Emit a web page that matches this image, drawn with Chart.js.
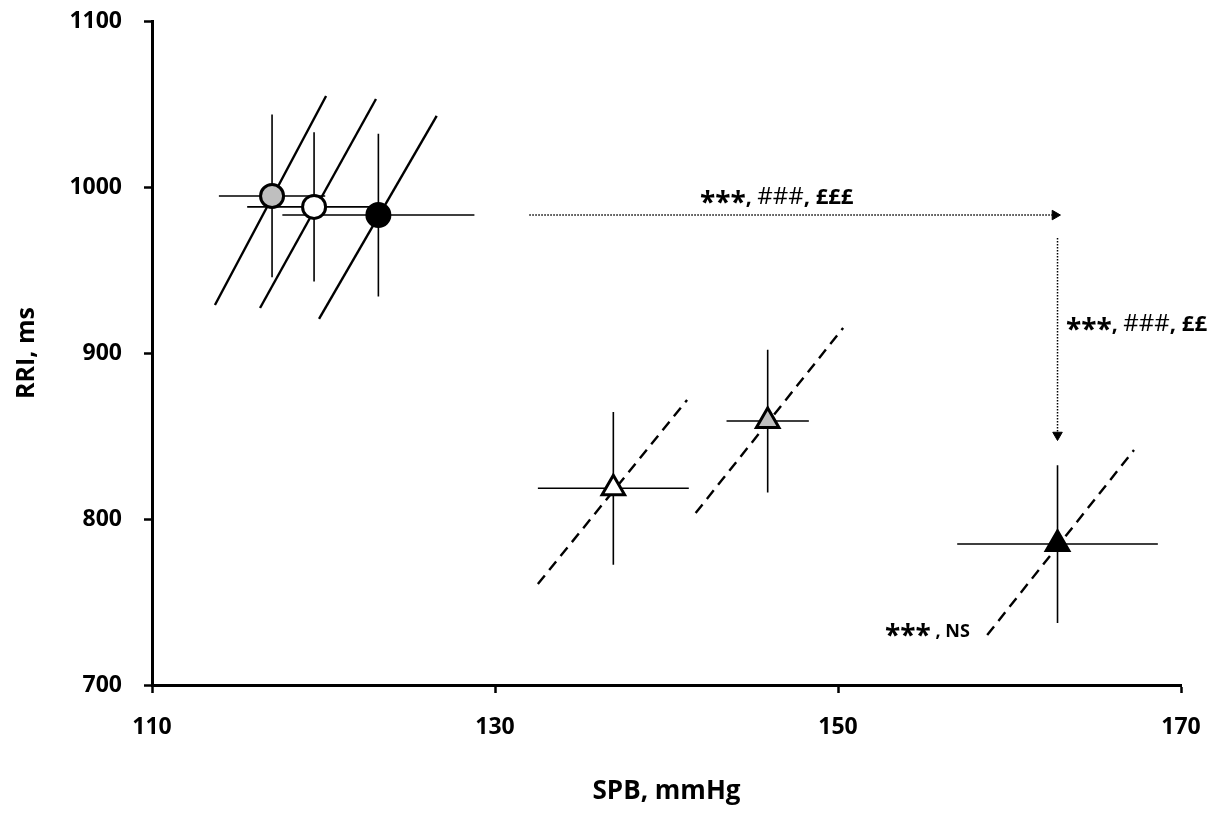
<!DOCTYPE html>
<html><head><meta charset="utf-8">
<script src="https://cdn.jsdelivr.net/npm/chart.js@4.4.0/dist/chart.umd.min.js"></script>
<style>html,body{margin:0;padding:0;background:#fff;} #wrap{width:1223px;height:817px;position:relative;}</style>
</head><body><div id="wrap"><canvas id="c" width="1223" height="817"></canvas></div>
<script>
// ---- data ----
const groups   = ['Grey circle','White circle','Black circle','White triangle','Grey triangle','Black triangle'];
const sbpMean  = [117.0, 119.45, 123.2, 136.9, 145.9, 162.8];
const sbpSD    = [3.1, 3.9, 5.6, 4.4, 2.4, 5.85];
const rriMean  = [994.6, 988.0, 983.1, 818.5, 859.0, 784.9];
const rriSD    = [49, 45, 49, 46, 43, 47.5];
// baroreflex slope line end points
const slopeX0  = [113.67, 116.3, 119.74, 132.5, 141.7, 158.7];
const slopeY0  = [928.9, 927.1, 920.5, 760.8, 803.6, 730.1];
const slopeX1  = [120.15, 123.06, 126.6, 141.2, 150.3, 167.26];
const slopeY1  = [1054.8, 1053.0, 1042.8, 871.7, 915.1, 841.6];
// arrows
const arrowHX = [132.0, 162.65];
const arrowHY = [983.1, 983.1];
const arrowVX = [162.8, 162.8];
const arrowVY = [969.3, 850.6];
// axis ticks
const xTicks = [110, 130, 150, 170];
const yTicks = [700, 800, 900, 1000, 1100];
// annotation texts
const label1 = ['***', ', ', '###', ', £££'];
const label2 = ['***', ', ', '###', ', ££'];
const label3 = ['***', ' , ', 'NS'];

// ---- styles ----
const fills  = ['#BFBFBF', '#FFFFFF', '#000000', '#FFFFFF', '#BFBFBF', '#000000'];
const shapes = ['circle', 'circle', 'circle', 'triangle', 'triangle', 'triangle'];
const radii  = [11.5, 11.5, 11.5, 13, 13, 13];
const dashed = [false, false, false, true, true, true];
const FONT = '"Open Sans", "Liberation Sans", sans-serif';

const seg = (t, size, weight, dy) => ({t, size, weight, dy: dy || 0});
const annotations = [
  {x: 141.95, y: 989.8, parts: [seg(label1[0], 28, 'bold', 8), seg(label1[1], 21, 'bold'), seg(label1[2], 24, 'normal'), seg(label1[3], 22, 'bold')]},
  {x: 163.3,  y: 913.3, parts: [seg(label2[0], 28, 'bold', 8), seg(label2[1], 21, 'bold'), seg(label2[2], 24, 'normal'), seg(label2[3], 22, 'bold')]},
  {x: 152.74, y: 728.9, parts: [seg(label3[0], 28, 'bold', 8), seg(label3[1], 18, 'bold'), seg(label3[2], 18, 'bold')]}
];

const errorBars = {
  id: 'errorBars',
  beforeDatasetsDraw(chart) {
    const {ctx, scales: {x, y}} = chart;
    ctx.save();
    ctx.strokeStyle = '#000';
    ctx.lineWidth = 1.6;
    for (let i = 0; i < sbpMean.length; i++) {
      const cx = x.getPixelForValue(sbpMean[i]), cy = y.getPixelForValue(rriMean[i]);
      ctx.beginPath();
      ctx.moveTo(x.getPixelForValue(sbpMean[i] - sbpSD[i]), cy);
      ctx.lineTo(x.getPixelForValue(sbpMean[i] + sbpSD[i]), cy);
      ctx.moveTo(cx, y.getPixelForValue(rriMean[i] - rriSD[i]));
      ctx.lineTo(cx, y.getPixelForValue(rriMean[i] + rriSD[i]));
      ctx.stroke();
    }
    ctx.restore();
  }
};

const textNotes = {
  id: 'textNotes',
  afterDatasetsDraw(chart) {
    const {ctx, scales: {x, y}} = chart;
    ctx.save();
    ctx.fillStyle = '#000';
    ctx.textBaseline = 'alphabetic';
    ctx.textAlign = 'left';
    annotations.forEach(a => {
      let px = x.getPixelForValue(a.x);
      const py = y.getPixelForValue(a.y);
      a.parts.forEach(p => {
        ctx.font = `${p.weight} ${p.size}px ${FONT}`;
        ctx.fillText(p.t, px, py + p.dy);
        px += ctx.measureText(p.t).width;
      });
    });
    ctx.restore();
  }
};

function build() {
  const datasets = [];
  // markers (on top)
  datasets.push({
    label: 'groups',
    data: groups.map((g, i) => ({x: sbpMean[i], y: rriMean[i]})),
    pointStyle: shapes,
    pointRadius: radii,
    pointHoverRadius: radii,
    pointBackgroundColor: fills,
    pointBorderColor: '#000',
    pointBorderWidth: 3,
    showLine: false,
    order: 0
  });
  // slope lines
  groups.forEach((g, i) => {
    datasets.push({
      label: g + ' slope',
      data: [{x: slopeX0[i], y: slopeY0[i]}, {x: slopeX1[i], y: slopeY1[i]}],
      showLine: true,
      borderColor: '#000',
      borderWidth: 2.4,
      borderDash: dashed[i] ? [11, 7] : [],
      pointRadius: 0,
      order: 2
    });
  });
  // arrows
  datasets.push({
    label: 'arrow h',
    data: arrowHX.map((v, i) => ({x: v, y: arrowHY[i]})),
    showLine: true, borderColor: '#000', borderWidth: 1.5, borderDash: [1.5, 1.5],
    pointRadius: [0, 5.5], pointStyle: 'triangle', pointRotation: [0, 90],
    pointBackgroundColor: '#000', pointBorderColor: '#000', pointBorderWidth: 1,
    order: 1
  });
  datasets.push({
    label: 'arrow v',
    data: arrowVX.map((v, i) => ({x: v, y: arrowVY[i]})),
    showLine: true, borderColor: '#000', borderWidth: 1.5, borderDash: [1.5, 1.5],
    pointRadius: [0, 5.5], pointStyle: 'triangle', pointRotation: [0, 180],
    pointBackgroundColor: '#000', pointBorderColor: '#000', pointBorderWidth: 1,
    order: 1
  });

  new Chart(document.getElementById('c'), {
    type: 'scatter',
    data: {datasets},
    plugins: [errorBars, textNotes],
    options: {
      responsive: false,
      animation: false,
      events: [],
      layout: {padding: {top: 21, right: 42, bottom: 0, left: 0}},
      plugins: {legend: {display: false}, tooltip: {enabled: false}},
      scales: {
        x: {
          type: 'linear', min: xTicks[0], max: xTicks[xTicks.length - 1],
          afterBuildTicks: s => { s.ticks = xTicks.map(v => ({value: v})); },
          afterFit: s => { s.height = 132; s.paddingLeft = 0; s.paddingRight = 0; },
          border: {display: true, color: '#000', width: 3},
          grid: {display: true, drawOnChartArea: false, drawTicks: true, tickLength: 8, tickWidth: 2.5, color: '#000', tickColor: '#000'},
          ticks: {color: '#000', font: {family: FONT, size: 23, weight: 'bold'}, padding: 21, maxRotation: 0, callback: v => String(v)},
          title: {display: true, text: 'SPB, mmHg', color: '#000', font: {family: FONT, size: 26, weight: 'bold'}, padding: {top: 0, bottom: 10}}
        },
        y: {
          type: 'linear', min: yTicks[0], max: yTicks[yTicks.length - 1],
          afterBuildTicks: s => { s.ticks = yTicks.map(v => ({value: v})); },
          afterFit: s => { s.width = 152; s.paddingTop = 0; s.paddingBottom = 0; },
          border: {display: true, color: '#000', width: 3},
          grid: {display: true, drawOnChartArea: false, drawTicks: true, tickLength: 8, tickWidth: 2.5, color: '#000', tickColor: '#000'},
          ticks: {color: '#000', font: {family: FONT, size: 23, weight: 'bold'}, padding: 22, callback: v => String(v)},
          title: {display: true, text: 'RRI, ms', color: '#000', font: {family: FONT, size: 25, weight: 'bold'}, padding: {top: 12, bottom: 0}}
        }
      }
    }
  });
}

Promise.all([
  document.fonts.load('bold 23px "Open Sans"'),
  document.fonts.load('normal 20px "Open Sans"')
]).then(build, build);
</script>
</body></html>
